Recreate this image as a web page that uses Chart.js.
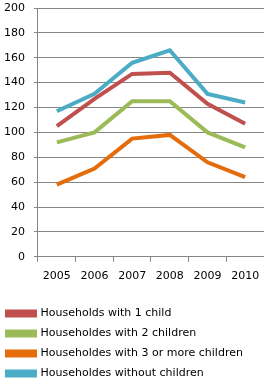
<!DOCTYPE html>
<html>
<head>
<meta charset="utf-8">
<script src="https://cdn.jsdelivr.net/npm/chart.js@4"></script>
<style>
  html, body { margin: 0; padding: 0; background: #fff; }
  #wrap { width: 264px; height: 387px; }
</style>
</head>
<body>
<div id="wrap"><canvas id="chart" width="264" height="387"></canvas></div>
<script>
var years = ["2005", "2006", "2007", "2008", "2009", "2010"];
var oneChild = [105, 127, 147, 148, 123, 107];
var twoChildren = [92, 100, 125, 125, 100, 88];
var threeOrMore = [58, 71, 95, 98, 76, 64];
var noChildren = [117, 131, 156, 166, 131, 124];
var yTicks = [0, 20, 40, 60, 80, 100, 120, 140, 160, 180, 200];

Chart.defaults.font.family = "'DejaVu Sans', Verdana, sans-serif";
Chart.defaults.font.size = 11;
Chart.defaults.color = "#000";

function line(label, values, color) {
    return {
        label: label,
        data: values,
        borderColor: color,
        backgroundColor: color,
        borderWidth: 4,
        pointRadius: 0,
        tension: 0,
        fill: false
    };
}

var ctx = document.getElementById("chart");

var myChart = new Chart(ctx, {
    type: 'line',
    data: {
        labels: years,
        datasets: [
            line("Households with 1 child", oneChild, "#C0504D"),
            line("Householdes with 2 children", twoChildren, "#9BBB59"),
            line("Householdes with 3 or more children", threeOrMore, "#E46C0A"),
            line("Householdes without children", noChildren, "#4BACC6")
        ]
    },
    options: {
        responsive: false,
        animation: false,
        // chart area about 37..264 wide, 8..257 tall
        layout: { padding: { top: 8, right: 0, left: -2, bottom: -2 } },
        scales: {
            x: {
                offset: true,
                grid: {
                    offset: true,
                    drawOnChartArea: false,
                    drawTicks: true,
                    tickLength: 5,
                    color: "#868686"
                },
                border: { color: "#868686" },
                ticks: { padding: 8, maxRotation: 0, autoSkip: false },
                afterFit: function (axis) {
                    axis.height += 8;
                    axis.paddingLeft = 0;
                    axis.paddingRight = 0;
                }
            },
            y: {
                min: 0,
                max: 200,
                afterBuildTicks: function (axis) {
                    axis.ticks = yTicks.map(function (v) { return { value: v }; });
                },
                grid: { color: "#868686", tickLength: 4 },
                border: { color: "#868686" },
                ticks: { padding: 9 },
                afterFit: function (axis) {
                    axis.width -= 3;
                    axis.paddingTop = 0;
                    axis.paddingBottom = 0;
                }
            }
        },
        plugins: {
            legend: {
                position: 'bottom',
                align: 'start',
                labels: {
                    boxWidth: 28,
                    boxHeight: 4,
                    padding: 9,
                    font: { size: 11 }
                }
            },
            tooltip: { enabled: false }
        }
    }
});
</script>
</body>
</html>
